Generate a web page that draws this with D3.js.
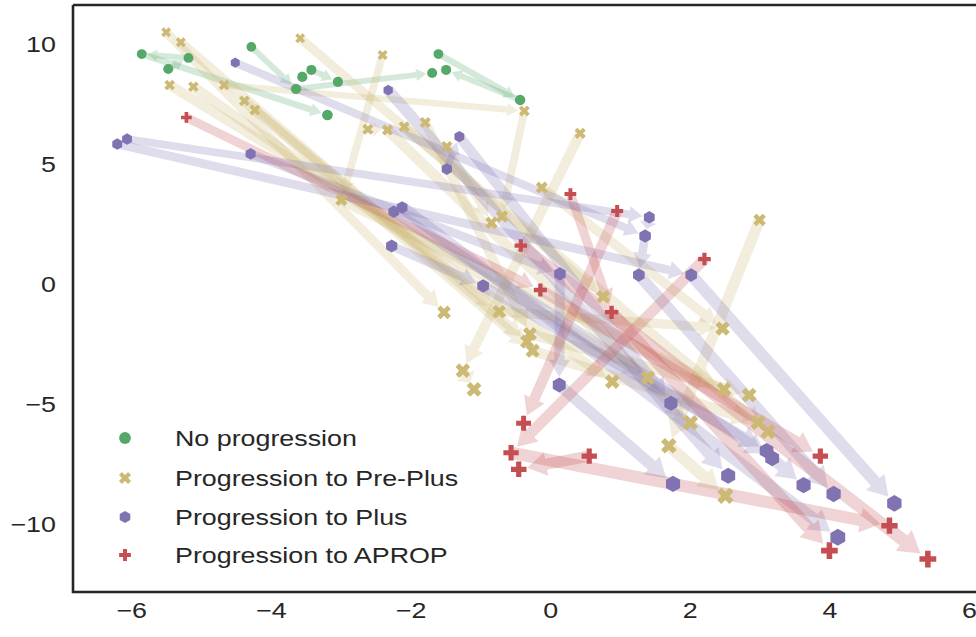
<!DOCTYPE html>
<html><head><meta charset="utf-8">
<script src="https://cdn.jsdelivr.net/npm/d3@7"></script>
<style>
body{margin:0;background:#fff}
text{font-family:"Liberation Sans",Arial,sans-serif;fill:#262626}
</style>
</head><body>
<svg id="c" width="976" height="637"></svg>
<script>
const categories = ["No progression","Progression to Pre-Plus","Progression to Plus","Progression to APROP"];
const colors = ["#55a868","#ccb974","#8172b2","#c44e52"];
const xTicks = [-6,-4,-2,0,2,4,6];
const yTicks = [-10,-5,0,5,10];

// trajectories: each is a list of [x, y] points, arrows drawn between consecutive points
const noProgression = [
 [[-5.47,8.96],[-5.18,9.42],[-5.85,9.58],[-3.19,7.04]],
 [[-4.28,9.88],[-3.64,8.13],[-1.69,8.79]],
 [[-3.55,8.63],[-3.42,8.92],[-3.04,8.42]],
 [[-1.60,9.58],[-0.43,7.67],[-1.49,8.92]]
];
const preplus = [
 [[-5.50,10.49],[-1.52,-1.18]],
 [[-5.29,10.07],[-0.33,-2.40]],
 [[-5.45,8.29],[1.40,-3.90]],
 [[-5.11,8.22],[0.89,-4.07]],
 [[-4.67,8.29],[-0.37,7.21],[-0.69,2.81]],
 [[-4.38,7.63],[-0.25,-2.78],[2.98,-5.77]],
 [[-4.23,7.25],[-0.73,-1.15],[2.47,-1.85]],
 [[-3.58,10.24],[0.76,-0.53]],
 [[-2.40,9.54],[-2.99,3.50],[2.49,-4.39]],
 [[-2.61,6.45],[-2.33,6.42],[2.01,-5.78]],
 [[-2.09,6.55],[3.12,-6.15]],
 [[-1.79,6.73],[-0.29,-2.08],[2.85,-4.63]],
 [[-1.48,5.72],[-0.84,2.55]],
 [[0.43,6.28],[-1.25,-3.61],[-1.09,-4.39]],
 [[-0.12,4.02],[2.47,-1.85]],
 [[3.00,2.67],[1.70,-6.74],[2.51,-8.83]]
];
const plus = [
 [[-6.20,5.83],[2.02,0.375],[4.93,-9.14]],
 [[-6.06,6.04],[1.42,2.78],[1.36,2.00],[1.27,0.375],[4.06,-8.75]],
 [[-4.51,9.22],[1.36,2.00]],
 [[-4.29,5.42],[0.14,0.42],[0.13,-4.21],[1.76,-8.33]],
 [[-2.32,8.08],[2.55,-7.99]],
 [[-1.48,4.79],[-1.30,6.14],[1.73,-4.97]],
 [[-2.27,1.58],[-0.96,-0.08],[3.10,-6.95]],
 [[-2.24,3.01],[3.18,-7.26],[3.63,-8.38]],
 [[-2.12,3.19],[4.12,-10.55]]
];
const aprop = [
 [[-5.21,6.94],[-0.14,-0.25],[3.87,-7.17]],
 [[0.29,3.75],[0.88,-1.18],[4.00,-11.11]],
 [[0.96,3.04],[-0.38,-5.80]],
 [[2.21,1.04],[-0.56,-7.03],[4.86,-10.07]],
 [[-0.42,1.60],[5.41,-11.46]],
 [[0.56,-7.17],[-0.45,-7.72]]
];
const groups = [noProgression, preplus, plus, aprop];

const svg = d3.select("#c");
const L = 73, T = 5, B = 592, R = 990;
const x = d3.scaleLinear().domain([-6.834, 6.30]).range([L, R]);
const y = d3.scaleLinear().domain([11.625, -12.833]).range([T, B]);
const sizeScale = d3.scaleLinear().domain([10.5, -11.5]).range([8.5, 15]);
const widthScale = d3.scaleLinear().domain([10, -11.5]).range([5.5, 12.5]);
const SX = 1.22;

function markerPath(cat, s) {
  let pts;
  if (cat === 0) {
    const r = s * 0.56;
    return `M${r},0A${r},${r} 0 1 1 ${-r},0A${r},${r} 0 1 1 ${r},0Z`;
  } else if (cat === 1) {
    pts = [[-0.25,-0.5],[0,-0.25],[0.25,-0.5],[0.5,-0.25],[0.25,0],[0.5,0.25],[0.25,0.5],[0,0.25],[-0.25,0.5],[-0.5,0.25],[-0.25,0],[-0.5,-0.25]].map(p => [p[0]*s*1.15, p[1]*s*1.15]);
  } else if (cat === 2) {
    const r = s * 0.58;
    pts = d3.range(6).map(k => { const a = -Math.PI/2 + k*Math.PI/3; return [r*Math.cos(a), r*Math.sin(a)]; });
  } else {
    const a = 1/6, b = 0.5;
    pts = [[-a,-b],[a,-b],[a,-a],[b,-a],[b,a],[a,a],[a,b],[-a,b],[-a,a],[-b,a],[-b,-a],[-a,-a]].map(p => [p[0]*s*1.12, p[1]*s*1.12]);
  }
  return "M" + pts.map(p => p.join(",")).join("L") + "Z";
}

function arrowPath(x1, y1, x2, y2, w, shrink) {
  const dx = x2 - x1, dy = y2 - y1, len = Math.hypot(dx, dy);
  const ux = dx/len, uy = dy/len, nx = -uy, ny = ux;
  const tx = x2 - ux*shrink, ty = y2 - uy*shrink;
  const hl = Math.min(w*1.7, (len - shrink)*0.6), hw = w*1.05;
  const bx = tx - ux*hl, by = ty - uy*hl;
  const p = [
    [x1 + nx*w/2, y1 + ny*w/2], [bx + nx*w/2, by + ny*w/2], [bx + nx*hw, by + ny*hw],
    [tx, ty], [bx - nx*hw, by - ny*hw], [bx - nx*w/2, by - ny*w/2], [x1 - nx*w/2, y1 - ny*w/2]
  ];
  return "M" + p.map(q => q[0].toFixed(2) + "," + q[1].toFixed(2)).join("L") + "Z";
}

// arrows
const arrowG = svg.append("g");
groups.forEach((paths, ci) => {
  paths.forEach(path => {
    for (let i = 0; i < path.length - 1; i++) {
      const a = path[i], b = path[i+1];
      const endSize = sizeScale(b[1]);
      arrowG.append("path")
        .attr("d", arrowPath(x(a[0]), y(a[1]), x(b[0]), y(b[1]), widthScale(b[1]), endSize*0.55 + 1))
        .attr("fill", colors[ci]).attr("fill-opacity", 0.25);
    }
  });
});

// markers
const markG = svg.append("g");
groups.forEach((paths, ci) => {
  paths.forEach(path => {
    path.forEach(p => {
      markG.append("path")
        .attr("d", markerPath(ci, sizeScale(p[1])))
        .attr("transform", `translate(${x(p[0])},${y(p[1])})`)
        .attr("fill", colors[ci]);
    });
  });
});

// axes
const xAxis = svg.append("g").attr("transform", `translate(0,${B})`)
  .call(d3.axisBottom(x).tickValues(xTicks).tickSize(0).tickPadding(10));
const yAxis = svg.append("g").attr("transform", `translate(${L},0)`)
  .call(d3.axisLeft(y).tickValues(yTicks).tickSize(0).tickPadding(14));
[xAxis, yAxis].forEach(g => {
  g.select(".domain").remove();
  g.selectAll("text").attr("font-size", 22).attr("font-family", '"Liberation Sans",Arial,sans-serif')
    .attr("fill", "#262626").attr("transform", `scale(${SX},1)`);
});

// spines
const sp = svg.append("g").attr("stroke", "#262626").attr("stroke-width", 2.6).attr("fill", "none");
sp.append("path").attr("d", `M${L},${T}H${R}M${L},${T}V${B}H${R}`);

// legend
const legRows = [438, 478, 517, 555];
const lg = svg.append("g");
categories.forEach((c, i) => {
  lg.append("path").attr("d", markerPath(i, 10.5)).attr("transform", `translate(125,${legRows[i]})`).attr("fill", colors[i]);
  lg.append("text").attr("transform", `translate(175,${legRows[i] + 8}) scale(${SX},1)`)
    .attr("font-size", 22).text(c);
});
</script>
</body></html>
